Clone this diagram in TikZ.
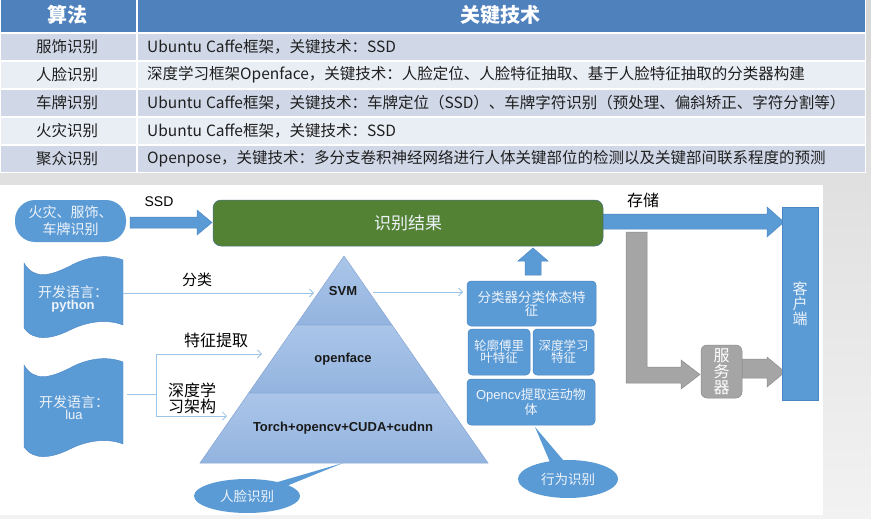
\documentclass[tikz,border=0pt]{standalone}
\usepackage{fontspec}
\setmainfont{Noto Sans CJK SC}
\newfontfamily\lat{Liberation Sans}
\usetikzlibrary{shapes.callouts,arrows.meta}
\definecolor{hdr}{HTML}{4F81BD}
\definecolor{rowA}{HTML}{D0D8E8}
\definecolor{rowB}{HTML}{E9EDF4}
\definecolor{cblue}{HTML}{5B9BD5}
\definecolor{cblueD}{HTML}{4A86C5}
\definecolor{cgreen}{HTML}{548235}
\definecolor{cgreenD}{HTML}{4C6F8F}
\definecolor{cgray}{HTML}{A5A5A5}
\definecolor{cgrayD}{HTML}{8C8C8C}
\definecolor{cline}{HTML}{9DC3E6}
\definecolor{ctext}{HTML}{EEF3FA}
\definecolor{pyrA}{HTML}{ABC5E9}
\definecolor{pyrB}{HTML}{93B4DF}
\definecolor{pyrE}{HTML}{86A6D3}
\newcommand\myfs[2]{\fontsize{#1}{#2}\selectfont}
\begin{document}
\begin{tikzpicture}[x=1pt,y=-1pt,
  cellL/.style={inner sep=0pt, text=black!88, font=\myfs{15.5}{18}},
  cellC/.style={inner sep=0pt, text=black!88, font=\myfs{15.5}{18}, anchor=west},
  hdrtext/.style={inner sep=0pt, text=white, font=\myfs{20}{22}\bfseries},
  bluebox/.style={fill=cblue, draw=cblueD, line width=0.5pt, rounded corners=4pt,
    text=ctext, align=center, inner sep=0pt},
  shapetext/.style={inner sep=0pt, text=ctext, align=center},
  label/.style={inner sep=0pt, text=black, font=\myfs{16}{18}},
  thinline/.style={draw=cline, line width=0.8pt},
  thinarrow/.style={thinline, -{Straight Barb[length=4pt,width=8pt]}},
  blockblue/.style={fill=cblue, draw=cblueD, line width=0.5pt},
  blockgray/.style={fill=cgray, draw=cgrayD, line width=0.5pt},
  pyrlayer/.style={top color=pyrA, bottom color=pyrB, draw=pyrE, line width=0.5pt},
  pyrtext/.style={inner sep=0pt, text=black!90, font=\lat\bfseries\myfs{13}{15}},
  bubble/.style={ellipse callout, fill=cblue, text=ctext, inner sep=0pt,
    callout pointer arc=16, font=\myfs{13.5}{15}}
]
\useasboundingbox (0,0) rectangle (871,519);
% background
\shade[top color=black!16, bottom color=black!5] (0,0) rectangle (871,519);
\fill[white] (0,185) rectangle (823,515);

% ---------------- table ----------------
\fill[white] (0,0) rectangle (866,173);
\fill[hdr] (1,0) rectangle (865,32);
\foreach \top/\col in {34/rowA,62/rowB,90/rowA,118/rowB,146/rowA}{
  \fill[\col] (1,\top) rectangle (136,\top+26);
  \fill[\col] (138,\top) rectangle (865,\top+26);
}
\fill[white] (136,0) rectangle (138,32);
\node[hdrtext] (h1) at (67,15) {算法};
\node[hdrtext] (h2) at (500,15) {关键技术};
\node[cellL] (a1) at (67,47) {服饰识别};
\node[cellL] (a2) at (67,75) {人脸识别};
\node[cellL] (a3) at (67,103) {车牌识别};
\node[cellL] (a4) at (67,131) {火灾识别};
\node[cellL] (a5) at (67,159) {聚众识别};
\node[cellC] (b1) at (147,47) {Ubuntu\hspace{4pt}Caffe框架，关键技术：SSD};
\node[cellC] (b2) at (147,75) {深度学习框架Openface，关键技术：人脸定位、人脸特征抽取、基于人脸特征抽取的分类器构建};
\node[cellC] (b3) at (147,103) {Ubuntu\hspace{4pt}Caffe框架，关键技术：车牌定位（SSD）、车牌字符识别（预处理、偏斜矫正、字符分割等）};
\node[cellC] (b4) at (147,131) {Ubuntu\hspace{4pt}Caffe框架，关键技术：SSD};
\node[cellC] (b5) at (147,159) {Openpose，关键技术：多分支卷积神经网络进行人体关键部位的检测以及关键部间联系程度的预测};

% ---------------- top row ----------------
\node[fill=cblue, rounded corners=20pt, minimum width=111pt, minimum height=42pt,
  text=ctext, align=center, inner sep=0pt, font=\myfs{14}{17}] (src) at (70.5,221) {火灾、服饰、\\车牌识别};
% SSD arrow
\draw[blockblue] (130,217) -- (197,217) -- (197,210) -- (212,222.5) -- (197,235) -- (197,228) -- (130,228) -- cycle;
\node[inner sep=0pt, font=\lat\myfs{14}{16}] (ssd) at (159,202) {SSD};
% storage arrow
\draw[blockblue] (598,214) -- (767,214) -- (767,207) -- (784,222) -- (767,237) -- (767,229) -- (598,229) -- cycle;
\node[label] (store) at (643,200) {存储};
% result box
\node[fill=cgreen, draw=cgreenD, line width=0.5pt, rounded corners=8pt, minimum width=390pt,
  minimum height=46pt, text=ctext, inner sep=0pt, font=\myfs{17}{19}] (res) at (408,223) {识别结果};

% gray L arrow
\draw[blockgray] (626,232) -- (647,232) -- (647,367) -- (681,367) -- (681,360) -- (700,374.5)
  -- (681,389) -- (681,383) -- (626,383) -- cycle;
% gray arrow server -> client
\draw[blockgray] (742,359) -- (767,359) -- (767,357) -- (785,372) -- (767,387) -- (767,378) -- (742,378) -- cycle;
% server
\node[fill=cgray, draw=cgrayD, line width=0.5pt, rounded corners=6pt, minimum width=41pt,
  minimum height=53pt, text=white, align=center, inner sep=0pt, font=\myfs{16}{16}] (srv) at (721.5,371.5) {服\\务\\器};
% client
\node[fill=cblue, draw=cblueD, line width=0.5pt, minimum width=36pt, minimum height=193pt,
  text=ctext, align=center, inner sep=0pt, font=\myfs{15}{15}] (cli) at (800,303.5) {客\\户\\端};

% ---------------- tapes ----------------
\draw[fill=cblue, draw=cblueD, line width=0.4pt] (24,263) .. controls (34,280) and (50,276) .. (70,266)
  .. controls (88,256) and (108,254) .. (123,260) -- (123,325)
  .. controls (108,319) and (88,321) .. (70,330) .. controls (52,339) and (34,342) .. (24,328) -- cycle;
\node[shapetext] (py) at (73,299) {\myfs{14}{14}开发语言：\\[0pt]\lat\bfseries\myfs{13}{14}python};
\draw[fill=cblue, draw=cblueD, line width=0.4pt] (24,365) .. controls (34,382) and (50,378) .. (70,368)
  .. controls (88,358) and (108,356) .. (123,362) -- (123,444)
  .. controls (108,438) and (88,440) .. (70,449) .. controls (52,458) and (34,461) .. (24,447) -- cycle;
\node[shapetext] (lua) at (74,407.5) {\myfs{14}{14}开发语言：\\[0pt]\lat\myfs{13}{14}lua};

% ---------------- pyramid ----------------
\draw[pyrlayer] (344,256) -- (392,325) -- (296,325) -- cycle;
\draw[pyrlayer] (296,325) -- (392,325) -- (439.3,393) -- (248.7,393) -- cycle;
\draw[pyrlayer] (248.7,393) -- (439.3,393) -- (488,463) -- (200,463) -- cycle;
\node[pyrtext] (svm) at (343,291) {SVM};
\node[pyrtext] (ofc) at (343,359) {openface};
\node[pyrtext] (tor) at (343,428) {Torch+opencv+CUDA+cudnn};

% ---------------- right boxes ----------------
\node[bluebox, minimum width=129pt, minimum height=45pt, font=\myfs{13.5}{13}] (cls) at (531.5,303.5) {分类器分类体态特\\征};
\node[bluebox, minimum width=62pt, minimum height=46pt, font=\myfs{12.5}{12}] (four) at (499,352) {轮廓傅里\\叶特征};
\node[bluebox, minimum width=61pt, minimum height=46pt, font=\myfs{12.5}{12}] (dpf) at (563.5,352) {深度学习\\特征};
\node[bluebox, minimum width=128pt, minimum height=46pt, font=\myfs{13}{13}] (ocv) at (531,402) {{\lat Opencv}提取运动物\\体};
% up arrow
\draw[blockblue] (525,275) -- (541,275) -- (541,261) -- (548,261) -- (533,248) -- (518,261) -- (525,261) -- cycle;

% ---------------- callouts ----------------
\coordinate (faceTip) at (343,463);
\coordinate (actTip) at (535,427);
\node[bubble, minimum width=106pt, minimum height=34pt, callout absolute pointer={(faceTip)}] (face) at (247,496) {人脸识别};
\node[bubble, minimum width=100pt, minimum height=38pt, callout absolute pointer={(actTip)}] (act) at (568,479) {行为识别};

% ---------------- thin connectors ----------------
\coordinate (pyR) at (123,293);
\coordinate (svmL) at (314,293);
\coordinate (svmR) at (373,292);
\coordinate (clsL) at (463,292);
\draw[thinarrow] (pyR) -- (svmL);
\draw[thinarrow] (svmR) -- (clsL);
\node[label, font=\myfs{15}{17}] (lfen) at (197,280) {分类};
\coordinate (luaR) at (127,394);
\coordinate (split) at (156,394);
\coordinate (featTip) at (262,354);
\coordinate (deepTip) at (227,416);
\draw[thinline] (luaR) -- (split);
\draw[thinarrow] (split) |- (featTip);
\draw[thinarrow] (split) |- (deepTip);
\node[label] (lfeat) at (216,340) {特征提取};
\node[label, align=center, font=\myfs{16}{16}] (ldeep) at (192,398) {深度学\\习架构};
\end{tikzpicture}
\end{document}
